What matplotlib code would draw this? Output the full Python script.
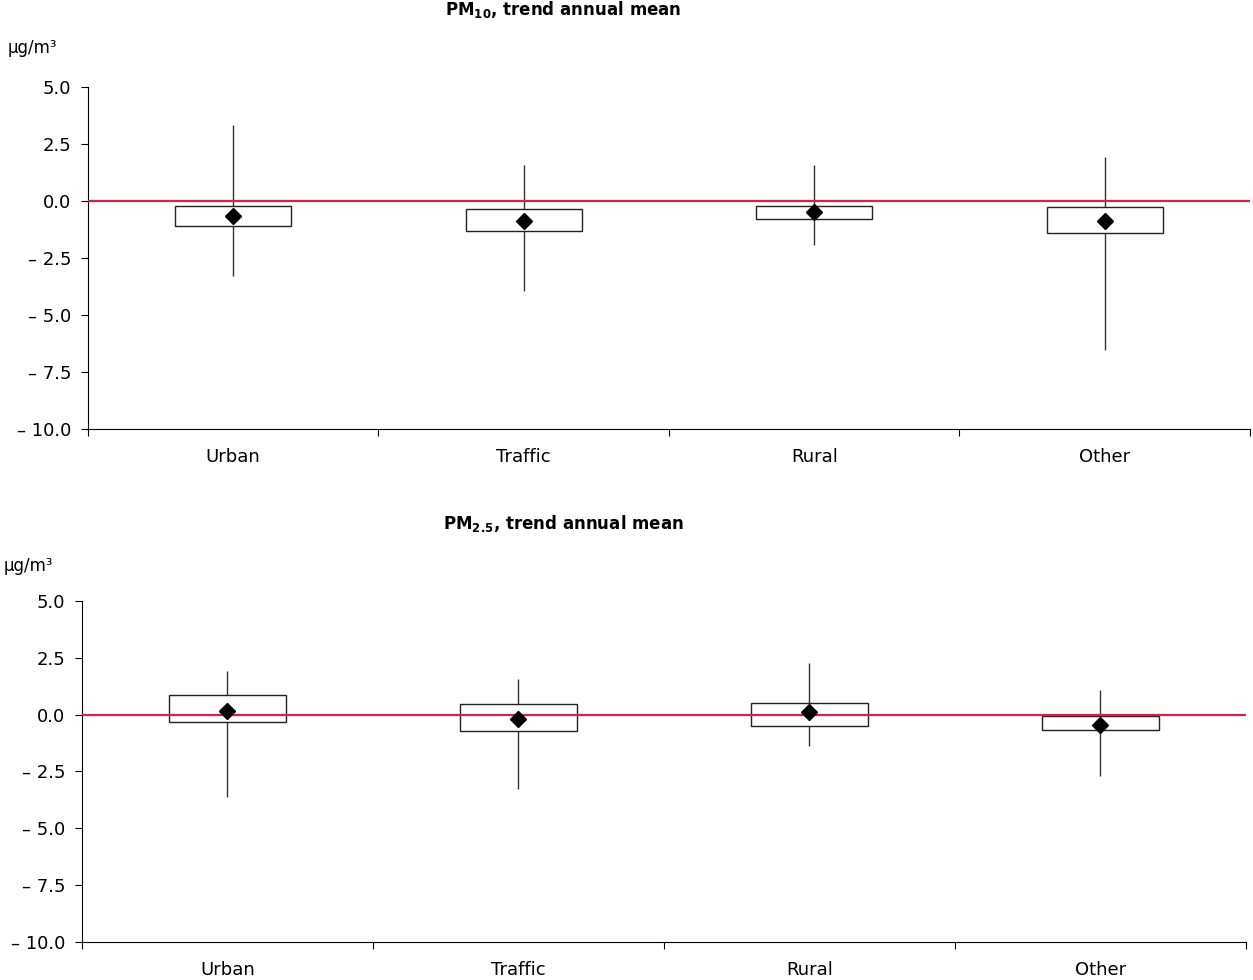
import numpy as np
import matplotlib
matplotlib.use('Agg')
from matplotlib import pyplot as plt
from matplotlib.patches import Rectangle
from matplotlib.ticker import FuncFormatter

categories = ['Urban', 'Traffic', 'Rural', 'Other']

# PM10 trend annual mean (µg/m3 per year)
pm10_whisker_low = [-3.28, -3.93, -1.94, -6.52]
pm10_box_low = [-1.10, -1.32, -0.77, -1.40]
pm10_mean = [-0.66, -0.88, -0.48, -0.86]
pm10_box_high = [-0.22, -0.35, -0.23, -0.25]
pm10_whisker_high = [3.35, 1.60, 1.56, 1.94]

# PM2.5 trend annual mean
pm25_whisker_low = [-3.62, -3.25, -1.38, -2.70]
pm25_box_low = [-0.32, -0.72, -0.48, -0.67]
pm25_mean = [0.16, -0.20, 0.11, -0.45]
pm25_box_high = [0.88, 0.46, 0.50, -0.05]
pm25_whisker_high = [1.90, 1.56, 2.29, 1.09]

yticks = [5.0, 2.5, 0.0, -2.5, -5.0, -7.5, -10.0]

plt.rcParams['font.family'] = 'DejaVu Sans'
plt.rcParams['font.size'] = 13

fig = plt.figure(figsize=(12.53, 9.8), dpi=100)
ax1 = fig.add_axes([0.0702, 0.5622, 0.9274, 0.349])
ax2 = fig.add_axes([0.0654, 0.0388, 0.9290, 0.348])


def fmt(v, pos):
    if v < 0:
        return '\u2013 %.1f' % abs(v)
    return '%.1f' % abs(v)


def draw(ax, wlo, blo, mean, bhi, whi):
    x = np.arange(len(categories)) + 0.5
    w = 0.4
    ax.vlines(x, wlo, whi, color='#333333', linewidth=1, zorder=1)
    for xi, lo, hi in zip(x, blo, bhi):
        ax.add_patch(Rectangle((xi - w / 2, lo), w, hi - lo, facecolor='white',
                               edgecolor='#222222', linewidth=1, zorder=2))
    ax.axhline(0, color='#DC1E4B', linewidth=1.6, zorder=3)
    ax.plot(x, mean, linestyle='none', marker='D', markersize=8, color='black', zorder=4)
    ax.set_xlim(0, 4)
    ax.set_ylim(-10, 5)
    ax.set_yticks(yticks)
    ax.yaxis.set_major_formatter(FuncFormatter(fmt))
    ax.set_xticks([0, 1, 2, 3, 4])
    ax.set_xticklabels([])
    ax.set_xticks(x, minor=True)
    ax.set_xticklabels(categories, minor=True)
    ax.tick_params(axis='x', which='minor', length=0, pad=14)
    ax.tick_params(axis='x', which='major', length=5, direction='out')
    ax.tick_params(axis='y', length=5, pad=7)
    for s in ['top', 'right']:
        ax.spines[s].set_visible(False)


draw(ax1, pm10_whisker_low, pm10_box_low, pm10_mean, pm10_box_high, pm10_whisker_high)
draw(ax2, pm25_whisker_low, pm25_box_low, pm25_mean, pm25_box_high, pm25_whisker_high)

fig.text(563 / 1253, 1 - 10 / 980, r'PM$_{\mathbf{10}}$, trend annual mean', ha='center', va='center',
         fontweight='bold', fontsize=12)
fig.text(563 / 1253, 1 - 524 / 980, r'PM$_{\mathbf{2.5}}$, trend annual mean', ha='center', va='center',
         fontweight='bold', fontsize=12)
fig.text(8 / 1253, 1 - 48 / 980, 'µg/m³', ha='left', va='center', fontsize=12)
fig.text(4 / 1253, 1 - 566 / 980, 'µg/m³', ha='left', va='center', fontsize=12)

fig.savefig('out.png', dpi=100)
